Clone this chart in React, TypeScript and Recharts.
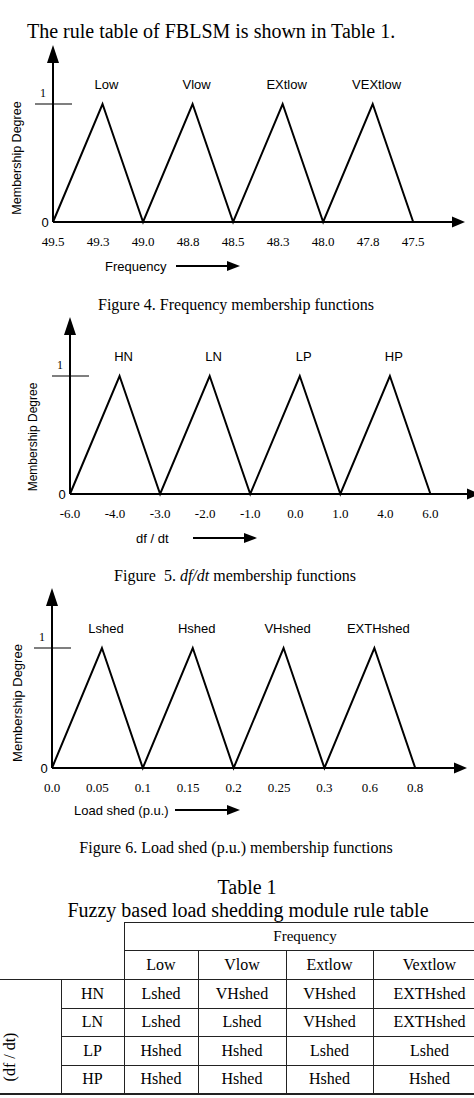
import React from "react"
import { LabelList, Line, LineChart, ReferenceLine, XAxis, YAxis } from "recharts"

const SERIF = '"Liberation Serif", "Times New Roman", serif'
const SANS = '"Liberation Sans", Arial, sans-serif'

// triangle shape shared by the three membership plots (x in tick steps)
const mfX = [0, 1.1, 2, 3.1, 4, 5.1, 6, 7.1, 8]
const mfDegree = [0, 1, 0, 1, 0, 1, 0, 1, 0]

const freqTicks = ["49.5", "49.3", "49.0", "48.8", "48.5", "48.3", "48.0", "47.8", "47.5"]
const freqSets = ["Low", "Vlow", "EXtlow", "VEXtlow"]

const dfdtTicks = ["-6.0", "-4.0", "-3.0", "-2.0", "-1.0", "0.0", "1.0", "4.0", "6.0"]
const dfdtSets = ["HN", "LN", "LP", "HP"]

const shedTicks = ["0.0", "0.05", "0.1", "0.15", "0.2", "0.25", "0.3", "0.6", "0.8"]
const shedSets = ["Lshed", "Hshed", "VHshed", "EXTHshed"]

// rule table
const freqCols = ["Low", "Vlow", "Extlow", "Vextlow"]
const dfdtRows = ["HN", "LN", "LP", "HP"]
const ruleHN = ["Lshed", "VHshed", "VHshed", "EXTHshed"]
const ruleLN = ["Lshed", "Lshed", "VHshed", "EXTHshed"]
const ruleLP = ["Hshed", "Hshed", "Lshed", "Lshed"]
const ruleHP = ["Hshed", "Hshed", "Hshed", "Hshed"]
const rules = [ruleHN, ruleLN, ruleLP, ruleHP]

function buildData(sets: string[]) {
  return mfX.map((x, i) => ({
    x,
    mu: mfDegree[i],
    name: mfDegree[i] === 1 ? sets[Math.floor(i / 2)] : undefined,
  }))
}

function Arrow(props: any) {
  const { x1, y1, x2, y2, head = 16, half = 6 } = props
  const len = Math.hypot(x2 - x1, y2 - y1) || 1
  const ux = (x2 - x1) / len
  const uy = (y2 - y1) / len
  const bx = x2 - ux * head
  const by = y2 - uy * head
  return (
    <g>
      <line x1={x1} y1={y1} x2={bx + ux} y2={by + uy} stroke="#000" strokeWidth={2} />
      <polygon
        points={`${x2},${y2} ${bx - uy * half},${by + ux * half} ${bx + uy * half},${by - ux * half}`}
        fill="#000"
      />
    </g>
  )
}

function YTick(props: any) {
  const { x, y, payload } = props
  const left = x + 8
  if (payload.value === 1) {
    return (
      <g>
        <line x1={left - 18} x2={left + 19} y1={y} y2={y} stroke="#000" strokeWidth={1.2} />
        <text x={left - 10} y={y - 7} textAnchor="middle" fontFamily={SERIF} fontSize={12} fill="#000">
          1
        </text>
      </g>
    )
  }
  return (
    <text x={left - 8} y={y + 4.5} textAnchor="middle" fontFamily={SANS} fontSize={13} fill="#000">
      0
    </text>
  )
}

function PeakLabel(props: any) {
  const { x, y, value } = props
  if (!value) return null
  return (
    <text x={x + 4} y={y - 15.5} textAnchor="middle" fontFamily={SANS} fontSize={13} fill="#000">
      {value}
    </text>
  )
}

type MfProps = {
  sets: string[]
  ticks: string[]
  width: number
  height: number
  top: number
  right: number
  yWidth: number
  axisH: number
  xMax: number
}

function MembershipChart({ sets, ticks, width, height, top, right, yWidth, axisH, xMax }: MfProps) {
  const data = buildData(sets)
  return (
    <LineChart width={width} height={height} data={data} margin={{ top, right, left: 0, bottom: 0 }}>
      <XAxis
        dataKey="x"
        type="number"
        domain={[0, xMax]}
        ticks={ticks.map((_, i) => i)}
        interval={0}
        height={axisH}
        axisLine={false}
        tickLine={false}
        tick={(p: any) => (
          <text x={p.x} y={p.y + 15.5} textAnchor="middle" fontFamily={SERIF} fontSize={13} fill="#000">
            {ticks[p.payload.value]}
          </text>
        )}
      />
      <YAxis
        type="number"
        domain={[0, 1.5]}
        ticks={[0, 1]}
        width={yWidth}
        axisLine={false}
        tickLine={false}
        tick={(p: any) => <YTick {...p} />}
      />
      <ReferenceLine
        segment={[{ x: 0, y: 0 }, { x: 0, y: 1.5 }]}
        shape={(p: any) => <Arrow {...p} head={18} half={6} />}
      />
      <ReferenceLine
        segment={[{ x: 0, y: 0 }, { x: xMax, y: 0 }]}
        shape={(p: any) => <Arrow {...p} head={13} half={5.5} />}
      />
      <Line type="linear" dataKey="mu" stroke="#000" strokeWidth={2} dot={false} isAnimationActive={false}>
        <LabelList dataKey="name" content={PeakLabel} />
      </Line>
    </LineChart>
  )
}

function Txt({ x, y, size, font = SERIF, anchor = "middle", rotate = false, children }: any) {
  const tx = anchor === "middle" ? "-50%" : "0"
  return (
    <div
      style={{
        position: "absolute",
        left: x,
        top: y,
        transform: rotate ? "translate(-50%, -50%) rotate(-90deg)" : `translate(${tx}, -50%)`,
        fontFamily: font,
        fontSize: size,
        lineHeight: 1,
        whiteSpace: "pre",
        color: "#000",
      }}
    >
      {children}
    </div>
  )
}

function AxisName({ x, y, label, x1, x2 }: any) {
  return (
    <>
      <Txt x={x} y={y} size={13} font={SANS} anchor="start">
        {label}
      </Txt>
      <svg style={{ position: "absolute", left: 0, top: y - 8, overflow: "visible" }} width={474} height={16}>
        <line x1={x1} y1={8} x2={x2 - 12} y2={8} stroke="#000" strokeWidth={2} />
        <polygon points={`${x2},8 ${x2 - 13},3 ${x2 - 13},13`} fill="#000" />
      </svg>
    </>
  )
}

const border = "1px solid #222"
const cell: React.CSSProperties = { border, textAlign: "center", padding: 0 }

export default function App() {
  return (
    <div
      style={{
        position: "absolute",
        left: 0,
        top: 0,
        width: 474,
        height: 1098,
        overflow: "hidden",
        background: "#fff",
      }}
    >
      <Txt x={27} y={31} size={20} anchor="start">
        The rule table of FBLSM is shown in Table 1.
      </Txt>

      {/* Figure 4 */}
      <div style={{ position: "absolute", left: 0, top: 0 }}>
        <MembershipChart sets={freqSets} ticks={freqTicks} width={474} height={260} top={45} right={9} yWidth={53} axisH={38} xMax={9.15} />
      </div>
      <Txt x={17} y={158} size={12.5} font={SANS} rotate>
        Membership Degree
      </Txt>
      <AxisName x={105} y={266} label="Frequency" x1={176} x2={240} />
      <Txt x={236} y={305} size={16}>
        Figure 4. Frequency membership functions
      </Txt>

      {/* Figure 5 */}
      <div style={{ position: "absolute", left: 0, top: 280 }}>
        <MembershipChart sets={dfdtSets} ticks={dfdtTicks} width={480} height={260} top={37} right={0} yWidth={70} axisH={46} xMax={9.1} />
      </div>
      <Txt x={33} y={437} size={12} font={SANS} rotate>
        Membership Degree
      </Txt>
      <AxisName x={136} y={538} label="df / dt" x1={193} x2={257} />
      <Txt x={235} y={576} size={16}>
        {"Figure  5. "}
        <i>df/dt</i>
        {" membership functions"}
      </Txt>

      {/* Figure 6 */}
      <div style={{ position: "absolute", left: 0, top: 560 }}>
        <MembershipChart sets={shedSets} ticks={shedTicks} width={474} height={250} top={28} right={7} yWidth={52} axisH={42} xMax={9.14} />
      </div>
      <Txt x={17} y={703} size={13} font={SANS} rotate>
        Membership Degree
      </Txt>
      <AxisName x={74} y={810} label="Load shed (p.u.)" x1={175} x2={240} />
      <Txt x={236} y={848} size={16}>
        Figure 6. Load shed (p.u.) membership functions
      </Txt>

      {/* Table 1 */}
      <Txt x={247} y={887} size={20}>
        Table 1
      </Txt>
      <Txt x={248} y={910} size={20}>
        Fuzzy based load shedding module rule table
      </Txt>
      <table
        style={{
          position: "absolute",
          left: 0,
          top: 922,
          width: 486,
          borderCollapse: "collapse",
          tableLayout: "fixed",
          fontFamily: SERIF,
          fontSize: 16,
          color: "#000",
        }}
      >
        <colgroup>
          <col style={{ width: 61 }} />
          <col style={{ width: 63 }} />
          <col style={{ width: 74 }} />
          <col style={{ width: 88 }} />
          <col style={{ width: 87 }} />
          <col style={{ width: 113 }} />
        </colgroup>
        <tbody>
          <tr style={{ height: 28 }}>
            <td colSpan={2} rowSpan={2} style={{ padding: 0 }} />
            <td colSpan={4} style={{ ...cell, fontSize: 15 }}>
              Frequency
            </td>
          </tr>
          <tr style={{ height: 29 }}>
            {freqCols.map((c) => (
              <td key={c} style={cell}>
                {c}
              </td>
            ))}
          </tr>
          {dfdtRows.map((r, i) => (
            <tr key={r} style={{ height: 28.5 }}>
              {i === 0 && (
                <td
                  rowSpan={4}
                  style={{ borderTop: border, borderRight: border, borderBottom: "2px solid #222", padding: 0 }}
                />
              )}
              <td style={{ ...cell, borderBottom: i === 3 ? "2px solid #222" : border }}>{r}</td>
              {rules[i].map((v, j) => (
                <td key={j} style={{ ...cell, borderBottom: i === 3 ? "2px solid #222" : border }}>
                  {v}
                </td>
              ))}
            </tr>
          ))}
        </tbody>
      </table>
      <Txt x={10} y={1057} size={16} rotate>
        (df / dt)
      </Txt>
    </div>
  )
}
